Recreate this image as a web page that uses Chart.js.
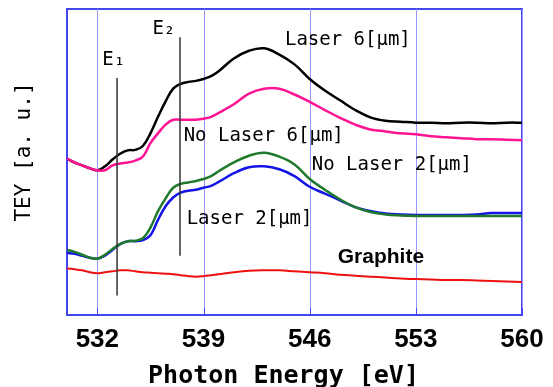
<!DOCTYPE html>
<html>
<head>
<meta charset="utf-8">
<title>TEY O K-edge</title>
<script src="https://cdn.jsdelivr.net/npm/chart.js@4"></script>
<style>
  html, body { margin:0; padding:0; background:#fff; }
</style>
</head>
<body>
<canvas id="teyChart" width="553" height="387"></canvas>
<script>
// photon energy [eV], finer steps over the edge region
const energy = [530,530.5,531,531.5,532,532.5,533,533.5,534,534.5,535,535.5,536,536.5,537,537.5,538,538.5,539,539.5,540,
                541,542,543,544,545,546,547,548,549,550,551,552,553,554,555,556,557,558,559,560];

// TEY [a. u.]
const laser6   = [161,157,154,151,149,153,160,166,169.5,170,174,187,204,220,233,238,240,241,243,246,251,
                  264,272,274.5,268,258,243,231,221,211,203.5,200,199,198,198,197.5,198,198,197.5,198,198];
const noLaser6 = [161,157,154,151,149,149,154,156,157,159,163,177,187,196,201,201,201,201,202,204,208,
                  217,228,233,233,227,219.5,211,203,196,191,189,187,186,184,183,182,181,181,180.5,180];
const noLaser2 = [67,65,62,59,58,62,68,73,76,76.5,79,90,107,120,131,135,136.5,138,140,143,148,
                  157,164,167,163,155,140,129,119,111,106,103.5,102.5,102,102,102,102,102,102,102,102];
const laser2   = [64,63,61,59,58,61,67,73,76,76,77,82,98,112,121,126,128,129,131,133,137,
                  146,152,153,150,143,132,125,118,111,107,104.5,103.5,103,103,103,103,103.5,105,105,105];
const graphite = [48,47,46,44,43,44,45,46,46,45,44,43.5,43,42.5,42,41,40,39.5,40,41,42,
                  44,45.5,46,46,45,44,43,41.5,40.5,39.5,38.5,37.5,37,36.5,36,36,35.5,35,34.5,34];

const xTicks = [532,539,546,553,560];

// edge markers E1 / E2
const edgeNames  = ['E\u2081','E\u2082'];
const edgeEnergy = [533.3, 537.45];
const edgeLow    = [20, 61];
const edgeHigh   = [244, 286];

const curveNames = ['Laser 6[\u03bcm]','No Laser 6[\u03bcm]','No Laser 2[\u03bcm]','Laser 2[\u03bcm]','Graphite'];

// where the texts sit, in data units (energy, TEY)
const curveLabelAt = [[544.37,283],[537.69,184],[546.14,154],[537.89,99],[547.85,60]];
const edgeLabelAt  = [[532.33,262],[535.63,294]];

const BLUE_BORDER = 'rgb(70,70,240)';
const BLUE_GRID = 'rgb(150,150,255)';

function series(vals) {
    return energy.map((e,i) => ({x:e, y:vals[i]}));
}

function curve(label, vals, color, width) {
    return { label: label, data: series(vals), borderColor: color, borderWidth: width,
             pointRadius: 0, tension: 0.4, fill: false };
}

function edgeLine(i) {
    return { label: edgeNames[i],
             data: [{x:edgeEnergy[i], y:edgeLow[i]}, {x:edgeEnergy[i], y:edgeHigh[i]}],
             borderColor: '#333', borderWidth: 1.5, pointRadius: 0 };
}

// first dataset is painted last (on top)
const datasets = [
    edgeLine(0), edgeLine(1),
    curve(curveNames[1], noLaser6, '#ff1493', 2.5),
    curve(curveNames[0], laser6,   '#000000', 2.5),
    curve(curveNames[2], noLaser2, '#1f7a2c', 2.5),
    curve(curveNames[3], laser2,   '#1414e6', 2.5),
    curve(curveNames[4], graphite, '#ee1111', 2)
];

// thin blue grid at the energy ticks, with a short darker tick at the bottom
const blueGrid = {
    id: 'blueGrid',
    beforeDatasetsDraw(chart) {
        const ctx = chart.ctx, x = chart.scales.x, a = chart.chartArea;
        ctx.save();
        ctx.lineWidth = 1;
        xTicks.forEach(v => {
            const px = Math.round(x.getPixelForValue(v)) + 0.5;
            ctx.strokeStyle = BLUE_GRID;
            ctx.beginPath();
            ctx.moveTo(px, a.top);
            ctx.lineTo(px, a.bottom);
            ctx.stroke();
            ctx.strokeStyle = BLUE_BORDER;
            ctx.beginPath();
            ctx.moveTo(px, a.bottom);
            ctx.lineTo(px, a.bottom - 7);
            ctx.stroke();
        });
        ctx.restore();
    }
};

const annotate = {
    id: 'annotate',
    afterDraw(chart) {
        const ctx = chart.ctx, x = chart.scales.x, y = chart.scales.y, a = chart.chartArea;
        ctx.save();
        ctx.fillStyle = '#000';
        ctx.textAlign = 'left';
        ctx.textBaseline = 'middle';
        curveNames.forEach((t,i) => {
            ctx.font = (i === 4) ? 'bold 21px "Liberation Sans"' : '19px "DejaVu Sans Mono"';
            ctx.fillText(t, x.getPixelForValue(curveLabelAt[i][0]), y.getPixelForValue(curveLabelAt[i][1]));
        });
        ctx.font = '19px "DejaVu Sans Mono"';
        edgeNames.forEach((t,i) => {
            ctx.fillText(t, x.getPixelForValue(edgeLabelAt[i][0]), y.getPixelForValue(edgeLabelAt[i][1]));
        });

        // axis titles
        ctx.textAlign = 'center';
        ctx.textBaseline = 'alphabetic';
        ctx.font = 'bold 25px "DejaVu Sans Mono"';
        ctx.fillText('Photon Energy [eV]', (a.left + a.right)/2 - 11, chart.height - 4);

        ctx.translate(a.left - 42, (a.top + a.bottom)/2 - 10);
        ctx.rotate(-Math.PI/2);
        ctx.textBaseline = 'middle';
        ctx.font = '21px "DejaVu Sans Mono"';
        ctx.fillText('TEY [a. u.]', 0, 0);
        ctx.restore();
    }
};

const frame = { display: false, drawTicks: false };

new Chart(document.getElementById('teyChart').getContext('2d'), {
    type: 'line',
    data: { datasets: datasets },
    plugins: [blueGrid, annotate],
    options: {
        responsive: false,
        animation: false,
        devicePixelRatio: 1,
        layout: { padding: { left: 67, right: 31, top: 9, bottom: 22.8 } },
        plugins: { legend: { display: false }, tooltip: { enabled: false } },
        scales: {
            x: {
                type: 'linear', min: 530, max: 560, position: 'bottom',
                afterBuildTicks: s => { s.ticks = xTicks.map(v => ({value: v})); },
                ticks: { autoSkip: false, maxRotation: 0, padding: 9, color: '#000',
                         font: { family: 'Liberation Sans', size: 26, weight: 'bold' } },
                grid: frame,
                border: { color: BLUE_BORDER, width: 2 }
            },
            x2: {
                type: 'linear', axis: 'x', min: 530, max: 560, position: 'top',
                ticks: { display: false }, grid: frame,
                border: { color: BLUE_BORDER, width: 2 }
            },
            y: {
                type: 'linear', min: 0, max: 315,
                ticks: { display: false }, grid: frame,
                border: { color: BLUE_BORDER, width: 2 }
            },
            y2: {
                type: 'linear', axis: 'y', min: 0, max: 315, position: 'right',
                ticks: { display: false }, grid: frame,
                border: { color: BLUE_BORDER, width: 2 }
            }
        }
    }
});
</script>
</body>
</html>
